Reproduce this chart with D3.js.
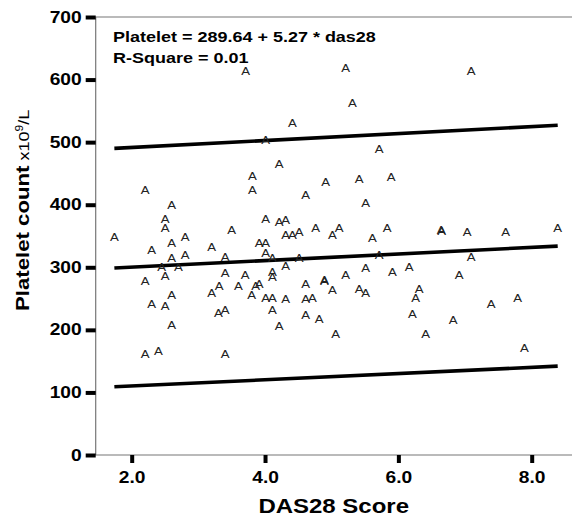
<!DOCTYPE html>
<html>
<head>
<meta charset="utf-8">
<script src="https://cdn.jsdelivr.net/npm/d3@7"></script>
<style>
  body { margin: 0; background: #fff; }
  text { font-family: Arial, 'Liberation Sans', sans-serif; }
</style>
</head>
<body>
<div id="wrapper"></div>
<script>
// Data
const das28 = [
  2.20, 2.60, 2.50, 2.50, 1.74, 2.60, 2.80, 3.50, 2.30, 2.60, 2.80, 3.20, 3.40, 2.45, 2.70,
  2.50, 2.20, 3.40, 3.70, 2.60, 2.30, 2.50, 3.20, 3.31, 3.60, 3.86, 3.80, 3.30, 3.40, 2.60,
  2.20, 2.40, 3.40, 3.81, 3.81,
  5.71, 4.21, 4.91, 5.41, 5.89, 4.61, 5.51, 4.01, 4.21, 4.31, 4.31, 4.41, 4.51, 4.76, 5.01,
  5.11, 5.83, 5.61, 3.91, 4.01, 4.01, 4.11, 4.51, 4.31, 5.71, 5.51, 5.91, 6.16, 4.11, 4.11,
  5.21, 3.91, 4.01, 4.11, 4.31, 4.61, 4.89, 4.89, 5.01, 5.41, 5.51, 4.61, 4.71, 4.11, 4.61,
  4.81, 4.21, 5.06,
  6.64, 6.65, 7.03, 7.61, 8.39, 7.09, 6.91, 6.31, 6.26, 6.21, 7.39, 7.79, 6.82, 6.41, 7.89,
  3.71, 5.21, 7.09, 5.31, 4.41, 4.01
];
const platelet = [
  423, 400, 377, 362, 348, 339, 348, 359, 327, 315, 320, 332, 317, 301, 300,
  286, 278, 291, 287, 255, 242, 238, 259, 270, 270, 270, 255, 227, 231, 208,
  161, 166, 161, 446, 423,
  489, 465, 436, 441, 445, 415, 403, 377, 373, 376, 352, 352, 357, 362, 352,
  362, 363, 347, 339, 339, 322, 314, 315, 302, 320, 298, 293, 300, 293, 285,
  287, 274, 251, 251, 250, 274, 280, 278, 264, 266, 259, 250, 251, 232, 223,
  218, 206, 194,
  360, 358, 356, 356, 362, 316, 288, 266, 251, 226, 242, 251, 215, 194, 171,
  613, 618, 613, 562, 530, 503
];

// fit shown in the chart
const intercept = 289.64;
const slope = 5.27;
// prediction band values at the two ends of the data range
const upperBand = [490, 527];
const lowerBand = [109, 142];

const xTicks = [2, 4, 6, 8];
const yTicks = [0, 100, 200, 300, 400, 500, 600, 700];

const width = 572;
const height = 520;
const stretch = 1.2; // the picture's text is wider than the plain font

const svg = d3.select('#wrapper')
  .append('svg')
  .attr('width', width)
  .attr('height', height);

const xScale = d3.scaleLinear()
  .domain([1.46, 8.6])
  .range([95.7, 571.7]);

const yScale = d3.scaleLinear()
  .domain([0, 700])
  .range([455, 17]);

// frame
svg.append('path')
  .attr('d', `M${xScale.range()[1] + 5},${yScale(700)} H${xScale(1.46)} V${yScale(0)} H${xScale.range()[1] + 5}`)
  .attr('fill', 'none')
  .attr('stroke', '#777')
  .attr('stroke-width', 1.2);

// y axis
const yAxis = svg.append('g')
  .attr('transform', `translate(${xScale(1.46)},0)`)
  .call(d3.axisLeft(yScale).tickValues(yTicks).tickSize(10).tickPadding(3).tickFormat(d3.format('d')));
yAxis.select('.domain').remove();
yAxis.selectAll('.tick line').attr('stroke', '#000').attr('stroke-width', 4);
yAxis.selectAll('.tick text')
  .attr('x', -14 / stretch)
  .attr('transform', `scale(${stretch},1)`)
  .attr('fill', '#000')
  .style('font-size', '16px')
  .style('font-weight', 'bold');

// x axis
const xAxis = svg.append('g')
  .attr('transform', `translate(0,${yScale(0)})`)
  .call(d3.axisBottom(xScale).tickValues(xTicks).tickSize(8).tickPadding(9).tickFormat(d3.format('.1f')));
xAxis.select('.domain').remove();
xAxis.selectAll('.tick line').attr('stroke', '#000').attr('stroke-width', 4);
xAxis.selectAll('.tick text')
  .attr('transform', `scale(${stretch},1)`)
  .attr('fill', '#000')
  .style('font-size', '16px')
  .style('font-weight', 'bold');

// regression line and prediction bands
const xExtent = d3.extent(das28);
const lineGen = d3.line()
  .x(d => xScale(d[0]))
  .y(d => yScale(d[1]));

const fitLines = [
  xExtent.map(x => [x, intercept + slope * x]),
  xExtent.map((x, i) => [x, upperBand[i]]),
  xExtent.map((x, i) => [x, lowerBand[i]])
];

svg.selectAll('.fit')
  .data(fitLines)
  .join('path')
  .attr('class', 'fit')
  .attr('d', lineGen)
  .attr('fill', 'none')
  .attr('stroke', '#000')
  .attr('stroke-width', 3.6);

// markers
const points = das28.map((d, i) => ({ x: d, y: platelet[i] }));
svg.append('g')
  .selectAll('text')
  .data(points)
  .join('text')
  .attr('transform', d => `translate(${xScale(d.x)},${yScale(d.y)}) scale(${stretch},1)`)
  .attr('text-anchor', 'middle')
  .attr('dy', '0.36em')
  .attr('fill', '#222')
  .style('font-size', '11px')
  .text('A');

// fit annotation
const note = svg.append('g')
  .attr('transform', `translate(113,0) scale(${stretch},1)`);
note.append('text')
  .attr('y', 42.5)
  .style('font-size', '15px')
  .style('font-weight', 'bold')
  .text(`Platelet = ${intercept} + ${slope} * das28`);
note.append('text')
  .attr('y', 63.5)
  .style('font-size', '15px')
  .style('font-weight', 'bold')
  .text('R-Square = 0.01');

// axis titles
svg.append('text')
  .attr('transform', `translate(${(xScale.range()[0] + xScale.range()[1]) / 2},513) scale(${stretch},1)`)
  .attr('text-anchor', 'middle')
  .style('font-size', '20px')
  .style('font-weight', 'bold')
  .text('DAS28 Score');

const yTitle = svg.append('text')
  .attr('transform', `translate(29,311) rotate(-90) scale(${stretch},1)`);
yTitle.append('tspan')
  .style('font-size', '18.5px')
  .style('font-weight', 'bold')
  .text('Platelet count');
yTitle.append('tspan')
  .style('font-size', '15px')
  .text(' x10');
yTitle.append('tspan')
  .style('font-size', '10px')
  .attr('dy', -6)
  .text('9');
yTitle.append('tspan')
  .style('font-size', '15px')
  .attr('dy', 6)
  .text('/L');
</script>
</body>
</html>
